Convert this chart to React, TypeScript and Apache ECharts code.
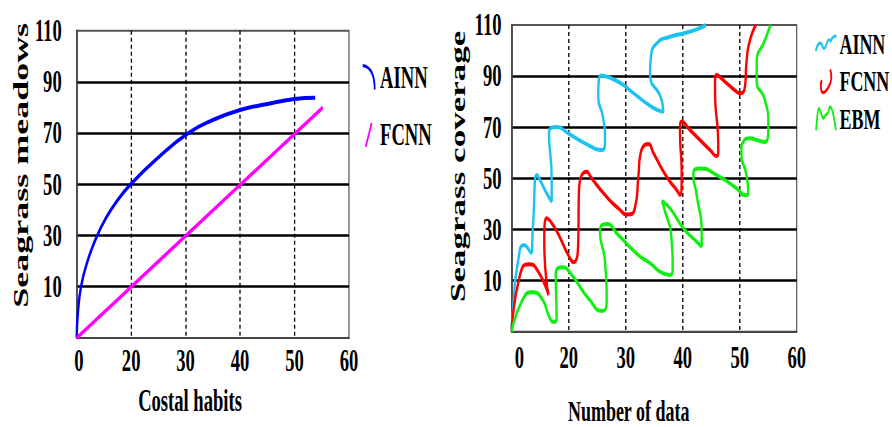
import React, { useEffect, useRef } from 'react';
import * as echarts from 'echarts';

// The reference figure is horizontally condensed; the chart is drawn wide and squeezed by CSS.
const K = 0.6;
const W = 892;
const H = 427;
const CW = W / K;
const FONT = "'Liberation Serif', 'Times New Roman', Times, serif";

const xTickLabels = ['0', '20', '30', '40', '50', '60'];
const yTickLabels = ['', '10', '30', '50', '70', '90', '110'];

// Left chart: Costal habits vs Seagrass meadows (axis units: x 0..50, y 0..120)
const habitsAINN: number[][] = [
  [0, 0], [0.2, 9], [0.8, 20], [2, 30], [3.67, 39.5], [5.2, 46.1], [7.3, 53.2], [10, 60.2],
  [15, 70.5], [20.5, 80], [25, 85.1], [30, 89], [35, 91.4], [40, 93.3], [43.8, 93.8],
];
const habitsFCNN: number[][] = [[0, 0], [45.2, 90]];

// Right chart: Number of data vs Seagrass coverage
const coverageAINN: number[][] = [
  [0, 0], [0.23, 8.5], [1.1, 27.3], [2.16, 33.9], [3.39, 30.8], [3.74, 41.7], [4.44, 61.3],
  [4.96, 59.4], [6.14, 54.1], [7.02, 50.9], [7.02, 59.4], [6.54, 77.6], [7.89, 80.1],
  [9.93, 77.6], [12.86, 73.7], [15.84, 71.1], [16.37, 75.0], [16.02, 84.0], [15.19, 91.9],
  [15.67, 100.2], [18.7, 97.8], [21.05, 93.9], [24.56, 88.0], [26.6, 86.1], [26.3, 90.7],
  [24.28, 101.1], [24.44, 107.6], [25.44, 112.8], [27.77, 115.4], [30.1, 116.7],
  [32.46, 118.3], [34.09, 120],
];
const coverageFCNN: number[][] = [
  [0, 0], [1.46, 22.2], [3.04, 26.4], [4.67, 23.5], [6.46, 14.4], [5.72, 35.2], [6.14, 44.4],
  [7.6, 40.5], [9.93, 30.0], [10.81, 27.2], [11.68, 35.2], [11.8, 54.8], [13.16, 62.6],
  [14.04, 60.0], [16.37, 53.5], [18.7, 48.3], [20.35, 45.9], [21.63, 48.4], [22.25, 61.3],
  [22.51, 68.5], [24.0, 73.4], [24.9, 69.8], [27.19, 60.6], [28.95, 55.4], [29.53, 53.5],
  [29.82, 61.3], [29.53, 78.9], [29.82, 82.2], [31.28, 78.9], [34.79, 71.1], [35.96, 68.7],
  [36.25, 71.1], [35.67, 95.9], [35.96, 100.4], [37.72, 97.2], [39.47, 93.9], [40.05, 93.3],
  [40.93, 95.9], [41.23, 106.3], [41.81, 114.1], [42.86, 120],
];
const coverageEBM: number[][] = [
  [0, 0], [1.75, 11.7], [3.61, 15.4], [5.26, 13.1], [6.72, 5.2], [7.47, 3.9], [7.89, 5.2],
  [7.72, 22.2], [8.88, 25.2], [10.53, 22.2], [13.44, 13.1], [15.89, 8.1], [16.67, 11.7],
  [16.37, 27.4], [15.49, 39.1], [16.67, 42.1], [18.7, 37.8], [22.21, 30.0], [24.26, 26.8],
  [26.6, 22.8], [27.77, 22.2], [28.25, 24.8], [28.07, 35.2], [26.6, 49.6], [26.32, 51.1],
  [27.77, 48.3], [30.11, 40.5], [32.46, 35.2], [33.33, 33.3], [33.33, 37.8], [32.46, 53.5],
  [31.86, 61.3], [33.04, 63.9], [35.96, 61.3], [39.47, 56.1], [40.93, 53.5], [41.51, 54.2],
  [41.2, 61.3], [40.3, 70.0], [40.7, 74.5], [41.8, 75.7], [42.98, 75.0], [44.44, 74.2],
  [45.02, 80.9], [44.44, 90.6], [42.98, 98.5], [42.98, 105.0], [44.44, 114.1], [45.44, 120],
];

const COLORS = {
  habitsAINN: '#0000ff',
  habitsFCNN: '#ff00ff',
  coverageAINN: '#1cc3f0',
  coverageFCNN: '#ff0000',
  coverageEBM: '#11ee11',
};

const ICONS = {
  arc: 'path://M0,0 Q20,2 20,24',
  slash: 'path://M0,20 L8.3,0',
  wave: 'path://M0,15 C3,8 8,4 11,10 C13,14 16,13 18,8 C20,3 23,3 25,5 C27,2 30,0 34.5,0',
  hook: 'path://M16,0 C19,6 18,12 13,17 C9,21 4,24 2,19 C1,16 1,13 3,10',
  mwave:
    'path://M0,23.3 C1.5,15 2.5,2 4.3,1.6 C7,1 10,12 12.2,11.6 C14,11 16,7 19.3,6.6 C21,6 22,0 23.3,0 C26,0 29,8 30.5,13.3 C31.5,17 32.5,21 33.3,23.3',
};

const textBase = { fontFamily: FONT, fontWeight: 'bold' as const, color: '#000' };

function xAxisFor(
  gridIndex: number,
  name: string,
  nameGap: number,
  padRight: number,
  margin: number,
  zeroShift: number,
  nameSize: number,
) {
  return {
    type: 'value',
    gridIndex,
    min: 0,
    max: 50,
    interval: 10,
    name,
    nameLocation: 'middle',
    nameGap,
    nameTextStyle: { ...textBase, fontSize: nameSize, padding: [0, padRight, 0, 0] },
    axisLine: { show: true, lineStyle: { color: '#444', width: 2 } },
    axisTick: { show: false },
    axisLabel: {
      ...textBase,
      fontSize: 31,
      margin,
      formatter: (v: number) => {
        const t = xTickLabels[Math.round(v / 10)] ?? '';
        return v === 0 ? `{z|${t}}` : t;
      },
      rich: {
        z: { ...textBase, fontSize: 31, padding: [0, 0, 0, zeroShift] },
      },
    },
    splitLine: {
      show: true,
      showMinLine: false,
      showMaxLine: false,
      lineStyle: { color: '#000', width: 2.2, type: [4, 3] },
    },
  };
}

function yAxisFor(gridIndex: number, name: string, nameGap: number, padLeft: number, margin: number, nameSize: number) {
  return {
    type: 'value',
    gridIndex,
    min: 0,
    max: 120,
    interval: 20,
    name,
    nameLocation: 'middle',
    nameRotate: 90,
    nameGap,
    nameTextStyle: { ...textBase, fontSize: nameSize, padding: [0, 0, 0, padLeft] },
    axisLine: { show: true, lineStyle: { color: '#444', width: 2.6 } },
    axisTick: { show: false },
    axisLabel: {
      ...textBase,
      fontSize: 31,
      margin,
      formatter: (v: number) => yTickLabels[Math.round(v / 20)] ?? '',
    },
    splitLine: {
      show: true,
      showMinLine: false,
      showMaxLine: false,
      lineStyle: { color: '#000', width: 2.5 },
    },
  };
}

function lineSeries(name: string, data: number[][], color: string, idx: number, width: number, smooth: number) {
  return {
    type: 'line',
    name,
    xAxisIndex: idx,
    yAxisIndex: idx,
    data,
    smooth,
    symbol: 'none',
    showSymbol: false,
    lineStyle: { color, width },
    itemStyle: { color },
    z: 3,
  };
}

function legendItem(name: string, icon: string, color: string) {
  return {
    name,
    icon,
    itemStyle: { color: 'none', borderColor: color, borderWidth: 3 },
  };
}

export default function App() {
  const ref = useRef<HTMLDivElement>(null);

  useEffect(() => {
    if (!ref.current) return;
    const chart = echarts.init(ref.current, null, { renderer: 'svg' });
    const gridBase = {
      show: true,
      borderColor: '#555',
      borderWidth: 2,
      backgroundColor: 'transparent',
      containLabel: false,
      outerBoundsMode: 'none',
    };
    const option = {
      animation: false,
      backgroundColor: '#fff',
      grid: [
        { ...gridBase, left: 127.8, top: 30.7, width: 453.8, height: 307.2 },
        { ...gridBase, left: 852.8, top: 25, width: 475, height: 306.7 },
      ],
      xAxis: [
        xAxisFor(0, 'Costal habits', 47, 76, 7, 7, 31),
        xAxisFor(1, 'Number of data', 64, 85, 10, 26, 30),
      ],
      yAxis: [
        yAxisFor(0, 'Seagrass meadows', 75, 38, 25, 36),
        yAxisFor(1, 'Seagrass coverage', 72, 24, 17, 35),
      ],
      legend: [
        {
          orient: 'vertical',
          left: 597,
          top: 57,
          itemWidth: 20,
          itemHeight: 24,
          itemGap: 26.5,
          symbolKeepAspect: true,
          textStyle: { ...textBase, fontSize: 31, padding: [0, 0, 0, 4] },
          data: [
            legendItem('AINN', ICONS.arc, COLORS.habitsAINN),
            legendItem('FCNN', ICONS.slash, COLORS.habitsFCNN),
          ],
        },
        {
          orient: 'vertical',
          left: 1352,
          top: 23.5,
          itemWidth: 34.5,
          itemHeight: 23.3,
          itemGap: 7.5,
          symbolKeepAspect: true,
          textStyle: { ...textBase, fontSize: 30 },
          data: [
            legendItem('AINN', ICONS.wave, COLORS.coverageAINN),
            legendItem('FCNN', ICONS.hook, COLORS.coverageFCNN),
            legendItem('EBM', ICONS.mwave, COLORS.coverageEBM),
          ],
        },
      ],
      series: [
        lineSeries('AINN', habitsAINN, COLORS.habitsAINN, 0, 4, 0.5),
        lineSeries('FCNN', habitsFCNN, COLORS.habitsFCNN, 0, 4, 0),
        lineSeries('AINN', coverageAINN, COLORS.coverageAINN, 1, 4, 0.6),
        lineSeries('FCNN', coverageFCNN, COLORS.coverageFCNN, 1, 4, 0.6),
        lineSeries('EBM', coverageEBM, COLORS.coverageEBM, 1, 4, 0.6),
      ],
    };
    chart.setOption(option as any);
    return () => chart.dispose();
  }, []);

  return (
    <div style={{ position: 'fixed', left: 0, top: 0, width: W, height: H, overflow: 'hidden', background: '#fff' }}>
      <div
        ref={ref}
        style={{ width: CW, height: H, transform: `scaleX(${K})`, transformOrigin: '0 0' }}
      />
    </div>
  );
}
